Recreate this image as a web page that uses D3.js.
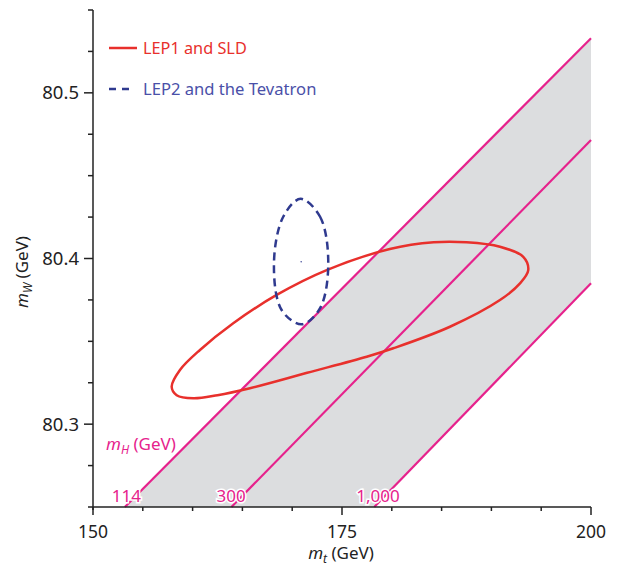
<!DOCTYPE html>
<html>
<head>
<meta charset="utf-8">
<script src="https://cdn.jsdelivr.net/npm/d3@7"></script>
<style>
  body { margin: 0; background: #fff; }
  svg { display: block; font-family: "Noto Sans", sans-serif; }
</style>
</head>
<body>
<svg id="chart" width="622" height="566"></svg>
<script>
// ---------- data ----------
const xDomain = [150, 200];
const yDomain = [80.25, 80.55];
const xTicks = [150, 155, 160, 165, 170, 175, 180, 185, 190, 195, 200];
const xTickLabels = [150, 175, 200];
const yTicks = [80.25, 80.275, 80.3, 80.325, 80.35, 80.375, 80.4, 80.425, 80.45, 80.475, 80.5, 80.525, 80.55];
const yTickLabels = [80.3, 80.4, 80.5];

// Higgs-mass lines (mt, mW) endpoints
const higgsMasses = ["114", "300", "1,000"];
const higgsLine114 = [[153.2, 80.25], [200, 80.533]];
const higgsLine300 = [[163.9, 80.25], [200, 80.4715]];
const higgsLine1000 = [[178.24, 80.25], [200, 80.385]];

// LEP1 and SLD contour (mt, mW)
const lep1Contour = [
  [157.9, 80.3226], [158.4, 80.3175], [160.07, 80.3156], [162.5, 80.3175], [165.76, 80.3217],
  [171.5, 80.331], [177.48, 80.3407], [180.15, 80.3458], [185.84, 80.3588],
  [190.86, 80.3749], [192.87, 80.385], [193.7, 80.393], [193.2, 80.401],
  [190.86, 80.4071], [187.5, 80.4098], [184.2, 80.4098], [179.8, 80.4057],
  [173.46, 80.393], [168.44, 80.378], [164.08, 80.3609], [160.74, 80.3448],
  [158.73, 80.3327]
];

// LEP2 and Tevatron contour (mt, mW)
const lep2Contour = [
  [170.85, 80.436], [172.8, 80.4252], [173.62, 80.3971], [172.8, 80.370],
  [170.95, 80.3603], [168.94, 80.3689], [168.17, 80.3971], [169.1, 80.4252]
];
const lep2Centre = [170.9, 80.398];

const legendLabels = ["LEP1 and SLD", "LEP2 and the Tevatron"];

// ---------- layout ----------
const svg = d3.select("#chart");
const x = d3.scaleLinear().domain(xDomain).range([93, 591]);
const y = d3.scaleLinear().domain(yDomain).range([507, 10]);

const red = "#e8302c", blue = "#2f3a8f", magenta = "#e6228c", band = "#dcdddf";
const blueText = "#4a50a8";

const line = d3.line().x(d => x(d[0])).y(d => y(d[1]));

// shaded band
const bandPoly = [higgsLine114[0], higgsLine114[1], higgsLine1000[1], higgsLine1000[0]];
svg.append("path").attr("d", line(bandPoly) + "Z").attr("fill", band);

// higgs lines
[higgsLine114, higgsLine300, higgsLine1000].forEach(l => {
  svg.append("path").attr("d", line(l)).attr("fill", "none")
    .attr("stroke", magenta).attr("stroke-width", 2.2);
});

// contours
const closed = d3.line().x(d => x(d[0])).y(d => y(d[1])).curve(d3.curveCatmullRomClosed.alpha(0.5));
svg.append("path").attr("d", closed(lep1Contour)).attr("fill", "none")
  .attr("stroke", red).attr("stroke-width", 2.5);
svg.append("path").attr("d", closed(lep2Contour)).attr("fill", "none")
  .attr("stroke", blue).attr("stroke-width", 2.5).attr("stroke-dasharray", "8,5");
svg.append("circle").attr("cx", x(lep2Centre[0])).attr("cy", y(lep2Centre[1]))
  .attr("r", 0.7).attr("fill", blue);

// higgs labels
const labelPos = [higgsLine114[0][0], higgsLine300[0][0], higgsLine1000[0][0]];
const labelOffsets = [-13, -15, -18];
higgsMasses.forEach((m, i) => {
  svg.append("text").attr("x", x(labelPos[i]) + labelOffsets[i]).attr("y", 502)
    .attr("text-anchor", "start").attr("font-size", 17)
    .attr("fill", magenta).attr("stroke", "#fff").attr("stroke-width", 3)
    .attr("paint-order", "stroke").text(m);
});
const mh = svg.append("text").attr("x", 106).attr("y", 450).attr("font-size", 17).attr("fill", magenta);
mh.append("tspan").attr("font-style", "italic").text("m");
mh.append("tspan").attr("font-style", "italic").attr("font-size", 12).attr("dy", 4).text("H");
mh.append("tspan").attr("dy", -4).text(" (GeV)");

// axes
const axisColor = "#222";
const gx = svg.append("g").attr("transform", "translate(0,507)");
gx.append("line").attr("x1", x(150)).attr("x2", x(200)).attr("stroke", axisColor).attr("stroke-width", 1.5);
gx.selectAll("line.t").data(xTicks).join("line").attr("class", "t")
  .attr("x1", d => x(d)).attr("x2", d => x(d)).attr("y1", 0)
  .attr("y2", d => xTickLabels.includes(d) ? 8 : 4)
  .attr("stroke", axisColor).attr("stroke-width", 1.5);
gx.selectAll("text").data(xTickLabels).join("text")
  .attr("x", d => x(d)).attr("y", 31).attr("text-anchor", "middle")
  .attr("font-size", 17.5).attr("fill", axisColor).text(d => d);

const gy = svg.append("g").attr("transform", "translate(93,0)");
gy.append("line").attr("y1", y(80.55)).attr("y2", 510).attr("stroke", axisColor).attr("stroke-width", 1.5);
gy.selectAll("line.t").data(yTicks).join("line").attr("class", "t")
  .attr("y1", d => y(d)).attr("y2", d => y(d)).attr("x1", 0)
  .attr("x2", d => yTickLabels.some(v => Math.abs(v - d) < 1e-6) ? -9 : -5)
  .attr("stroke", axisColor).attr("stroke-width", 1.5);
gy.selectAll("text").data(yTickLabels).join("text")
  .attr("x", -14).attr("y", d => y(d)).attr("dy", "0.35em").attr("text-anchor", "end")
  .attr("font-size", 18.5).attr("fill", axisColor).text(d => d3.format(".1f")(d));

// axis titles
const xt = svg.append("text").attr("x", 341).attr("y", 559).attr("text-anchor", "middle")
  .attr("font-size", 17).attr("fill", axisColor);
xt.append("tspan").attr("font-style", "italic").text("m");
xt.append("tspan").attr("font-style", "italic").attr("font-size", 12).attr("dy", 4).text("t");
xt.append("tspan").attr("dy", -4).text("  (GeV)");

const yt = svg.append("text").attr("transform", "translate(28,272) rotate(-90)")
  .attr("text-anchor", "middle").attr("font-size", 17).attr("fill", axisColor);
yt.append("tspan").attr("font-style", "italic").text("m");
yt.append("tspan").attr("font-style", "italic").attr("font-size", 12).attr("dy", 4).text("W");
yt.append("tspan").attr("dy", -4).text(" (GeV)");

// legend
svg.append("line").attr("x1", 109).attr("x2", 137).attr("y1", 48).attr("y2", 48)
  .attr("stroke", red).attr("stroke-width", 2.5);
svg.append("text").attr("x", 143).attr("y", 48).attr("dy", "0.35em").attr("font-size", 16.3)
  .attr("fill", red).text(legendLabels[0]);
svg.append("line").attr("x1", 109).attr("x2", 134).attr("y1", 89).attr("y2", 89)
  .attr("stroke", blue).attr("stroke-width", 2.5).attr("stroke-dasharray", "7,6");
svg.append("text").attr("x", 143).attr("y", 89).attr("dy", "0.35em").attr("font-size", 16.6)
  .attr("fill", blueText).text(legendLabels[1]);
</script>
</body>
</html>
